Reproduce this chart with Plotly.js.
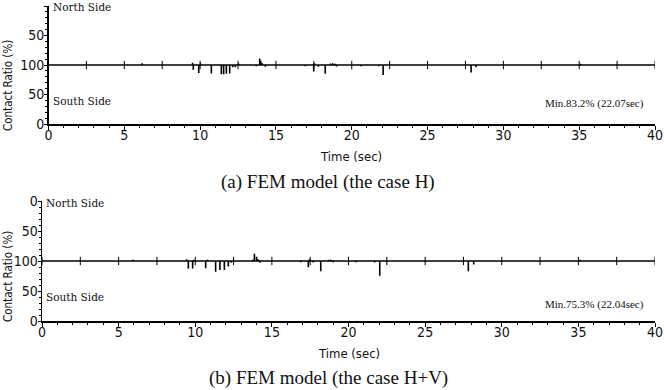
<!DOCTYPE html>
<html>
<head>
<meta charset="utf-8">
<script src="https://cdn.plot.ly/plotly-3.0.1.min.js"></script>
<style>html,body{margin:0;padding:0;background:#fff}#chart{width:664px;height:390px}</style>
</head>
<body>
<div id="chart"></div>
<script>
// ---------- data ----------
// Panel (a): FEM model, case H
var aTime  = [6.17, 9.5, 9.55, 9.91, 10.02, 10.74, 11.4, 11.55, 11.73, 11.95, 12.15, 12.32, 12.54, 13.7, 13.93, 14.0, 14.1, 14.3, 16.94, 17.49, 17.55, 17.8, 18.25, 18.6, 18.75, 18.9, 19.0, 20.6, 21.77, 22.07, 27.87, 28.2, 35.1];
var aSide  = ['N','N','S','S','N','S','S','S','S','S','S','S','N','S','N','N','N','S','S','S','N','S','S','N','N','N','S','S','S','S','S','S','N'];
var aRatio = [97, 96, 92, 86.5, 97, 85.5, 84.5, 84.5, 85, 85.5, 96, 96, 97.5, 98, 89, 93, 97, 97, 98, 89, 97, 97, 85, 97.5, 97, 98, 97.5, 98, 98, 83.2, 87.5, 96, 98];

// Panel (b): FEM model, case H+V
var bTime  = [5.94, 9.44, 9.55, 9.83, 9.9, 10.68, 10.8, 11.33, 11.61, 11.9, 12.16, 12.35, 12.5, 13.75, 13.86, 14.0, 14.1, 14.23, 16.88, 17.38, 17.45, 17.7, 18.19, 18.7, 18.85, 19.0, 20.5, 21.7, 22.04, 27.82, 28.17, 35.1];
var bSide  = ['N','N','S','S','N','S','N','S','S','S','S','S','N','N','N','N','N','S','S','S','N','S','S','N','N','S','S','S','S','S','S','N'];
var bRatio = [98, 97, 87, 87.5, 98, 88, 98, 82, 85, 85, 91, 97, 98, 98, 88, 93, 97, 97, 98, 89.5, 97, 97.5, 83, 98, 98, 98, 98, 97.5, 75.3, 83, 94, 98];

var captionA = '(a) FEM model (the case H)';
var captionB = '(b) FEM model (the case H+V)';
var minA = 'Min.83.2% (22.07sec)';
var minB = 'Min.75.3% (22.04sec)';
var yTickVals = [-100, -50, 0, 50, 100];
var yTickText = ['0', '50', '100', '50', '0'];
var tStart = 0, tEnd = 40;

// ---------- helpers ----------
var W = 664, H = 390;
function px(x){ return x / W; }
function py(y){ return 1 - y / H; }

function spikeTrace(t, side, ratio, xa, ya){
  var x = [tStart], y = [0];
  for (var i = 0; i < t.length; i++){
    var d = 100 - ratio[i];
    var v = side[i] === 'N' ? d : -d;
    x.push(t[i], t[i], t[i]);
    y.push(0, v, 0);
  }
  x.push(tEnd); y.push(0);
  return {x:x, y:y, xaxis:xa, yaxis:ya, type:'scatter', mode:'lines',
          line:{color:'#000', width:1.6}, hoverinfo:'none', showlegend:false};
}
function centerTicks(xa, ya){
  var x = [], y = [];
  for (var t = tStart; t <= tEnd + 1e-9; t += 2.5){ x.push(t); y.push(0); }
  return {x:x, y:y, xaxis:xa, yaxis:ya, type:'scatter', mode:'markers',
          marker:{symbol:'line-ns-open', size:6, color:'#000', line:{color:'#000', width:1}},
          hoverinfo:'none', showlegend:false};
}

var narrow = "'Liberation Sans Narrow', 'DejaVu Sans Condensed', 'Liberation Sans', sans-serif";
var tickFont = {family:narrow, size:14, color:'#111'};
var serifSmall = {family:"'DejaVu Serif', 'Liberation Serif', serif", size:10.5, color:'#111'};
var serifMin = {family:"'Liberation Serif', serif", size:11, color:'#111'};

function xAxis(domain, anchor){
  return {domain:domain, anchor:anchor, range:[tStart, tEnd], dtick:5, tick0:0,
          ticks:'outside', ticklen:4, tickwidth:1, tickcolor:'#000',
          minor:{dtick:1, ticks:'outside', ticklen:2, tickwidth:1, tickcolor:'#000'},
          showline:true, linecolor:'#000', linewidth:1.5, showgrid:false, zeroline:false,
          tickfont:tickFont, ticklabelstandoff:-6, fixedrange:true};
}
function yAxis(domain, anchor){
  return {domain:domain, anchor:anchor, range:[-100, 100], tickmode:'array',
          tickvals:yTickVals, ticktext:yTickText,
          ticks:'outside', ticklen:3, tickwidth:1, tickcolor:'#000',
          minor:{tickmode:'linear', tick0:0, dtick:10, ticks:'outside', ticklen:2, tickwidth:1, tickcolor:'#000'},
          showline:true, linecolor:'#000', linewidth:1.5, showgrid:false, zeroline:false,
          tickfont:tickFont, ticklabelstandoff:-3, fixedrange:true};
}

var data = [
  spikeTrace(aTime, aSide, aRatio, 'x', 'y'),
  centerTicks('x', 'y'),
  spikeTrace(bTime, bSide, bRatio, 'x2', 'y2'),
  centerTicks('x2', 'y2')
];

function ann(text, x, y, font, opts){
  var a = {text:text, x:px(x), y:py(y), xref:'paper', yref:'paper', showarrow:false,
           font:font, xanchor:'center', yanchor:'middle'};
  for (var k in (opts||{})) a[k] = opts[k];
  return a;
}

var axTitleFont = {family:narrow, size:13, color:'#111'};
var yTitleFont = {family:narrow, size:11.5, color:'#111'};
var capFont = {family:"'Liberation Serif', serif", size:19, color:'#111'};

var layout = {
  width:W, height:H, margin:{l:0, r:0, t:0, b:0},
  paper_bgcolor:'#fff', plot_bgcolor:'#fff', showlegend:false,
  xaxis: xAxis([px(48.5), px(655)], 'y'),
  yaxis: yAxis([py(124), py(6)], 'x'),
  xaxis2: xAxis([px(42), px(655)], 'y2'),
  yaxis2: yAxis([py(321), py(201)], 'x2'),
  annotations:[
    ann('North Side', 51, 7, serifSmall, {xanchor:'left'}),
    ann('South Side', 51, 101, serifSmall, {xanchor:'left'}),
    ann(minA, 646, 104, serifMin, {xanchor:'right'}),
    ann('Time (sec)', 351, 156, axTitleFont),
    ann('Contact Ratio (%)', 8, 86, yTitleFont, {textangle:-90}),
    ann(captionA, 328, 182, capFont),
    ann('North Side', 44, 203, serifSmall, {xanchor:'left'}),
    ann('South Side', 44, 297, serifSmall, {xanchor:'left'}),
    ann(minB, 646, 304, serifMin, {xanchor:'right'}),
    ann('Time (sec)', 349, 353, axTitleFont),
    ann('Contact Ratio (%)', 8, 277, yTitleFont, {textangle:-90}),
    ann(captionB, 328, 378, capFont)
  ]
};

Plotly.newPlot('chart', data, layout, {staticPlot:true, displayModeBar:false});
</script>
</body>
</html>
